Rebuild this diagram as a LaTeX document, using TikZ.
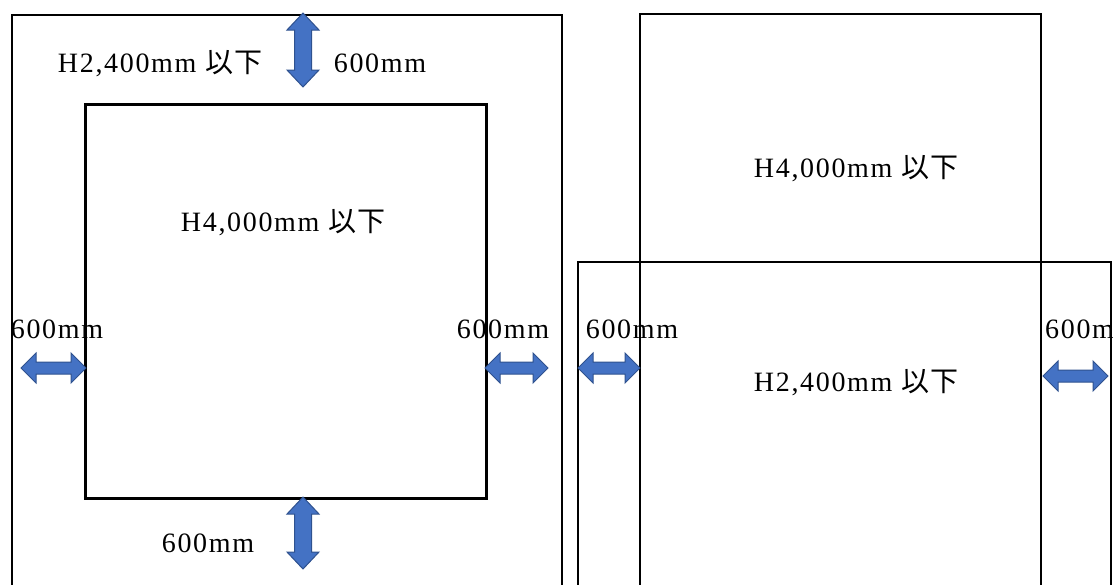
\documentclass[tikz,border=0pt]{standalone}
\usepackage{fontspec}
\setmainfont{Liberation Serif}[LetterSpace=6]
\newfontfamily\jpfont{Noto Sans CJK JP}[LetterSpace=3]
\newcommand\jp[1]{{\jpfont #1}}
\definecolor{arrowfill}{HTML}{4472C4}
\definecolor{arrowline}{HTML}{2F528F}
\tikzset{
  frame/.style={draw=black, line width=2.7pt},
  blk/.style={fill=arrowfill, draw=arrowline, line width=1pt, line join=miter},
  lbl/.style={anchor=base, inner sep=0pt, font=\fontsize{28}{32}\selectfont},
}
% horizontal block arrow: x1, x2, y
\newcommand\blkH[3]{%
  \filldraw[blk] (#1,#3) -- ({#1+15},{#3-15}) -- ({#1+15},{#3-6}) -- ({#2-15},{#3-6})
    -- ({#2-15},{#3-15}) -- (#2,#3) -- ({#2-15},{#3+15}) -- ({#2-15},{#3+6})
    -- ({#1+15},{#3+6}) -- ({#1+15},{#3+15}) -- cycle;}
% vertical block arrow: x, y1, y2
\newcommand\blkV[3]{%
  \filldraw[blk] (#1,#2) -- ({#1+16},{#2+17}) -- ({#1+8.5},{#2+17}) -- ({#1+8.5},{#3-17})
    -- ({#1+16},{#3-17}) -- (#1,#3) -- ({#1-16},{#3-17}) -- ({#1-8.5},{#3-17})
    -- ({#1-8.5},{#2+17}) -- ({#1-16},{#2+17}) -- cycle;}
\begin{document}
\begin{tikzpicture}[x=1pt,y=-1pt]
\useasboundingbox (0,0) rectangle (1113,584);
% left diagram
\draw[frame] (12,620) -- (12,15) -- (562,15) -- (562,620);
\node[frame, draw, inner sep=0pt, minimum width=401pt, minimum height=394pt, anchor=north west] (innerL) at (84,103) {};
% right diagram
\draw[frame] (640,620) -- (640,14) -- (1041,14) -- (1041,620);
\draw[frame] (578,620) -- (578,262) -- (1111,262) -- (1111,620);
% arrows
\blkV{303}{13}{87}
\blkV{303}{497}{569}
\blkH{21}{86}{368}
\blkH{485}{548}{368}
\blkH{578}{640}{368}
\blkH{1043}{1108}{376}
% labels
\node[lbl] (t1) at (160,72) {H2,400mm \jp{以下}};
\node[lbl] (t2) at (380,72) {600mm};
\node[lbl] (t3) at (283,231) {H4,000mm \jp{以下}};
\node[lbl] (t4) at (57,338) {600mm};
\node[lbl] (t5) at (503,338) {600mm};
\node[lbl] (t6) at (632,338) {600mm};
\node[lbl, anchor=base west] (t7) at (1045,338) {600mm};
\node[lbl] (t8) at (208,552) {600mm};
\node[lbl] (t9) at (856,177) {H4,000mm \jp{以下}};
\node[lbl] (t10) at (856,391) {H2,400mm \jp{以下}};
\end{tikzpicture}
\end{document}
